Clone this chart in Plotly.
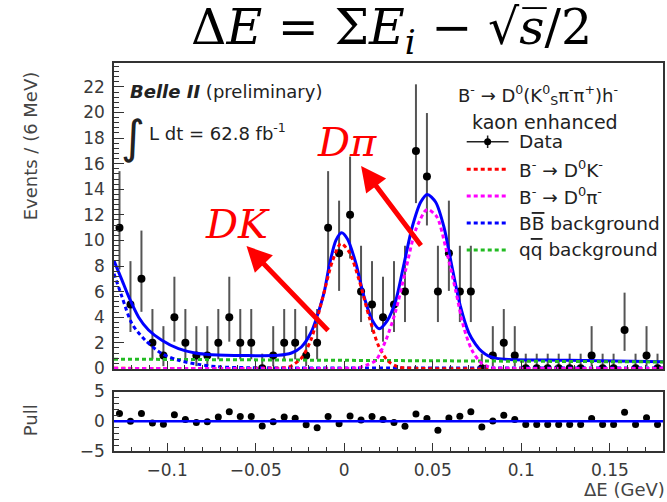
import math
import plotly.graph_objects as go

# ---------------- data ----------------
x_lo, x_hi = -0.13, 0.18
n_bins = 50
counts = [11, 5, 7, 2, 1, 4, 2, 1, 1, 2,
          4, 2, 2, 0, 1, 2, 2, 1, 2, 11,
          9, 12, 6, 5, 4, 5, 6, 17, 15, 6,
          9, 6, 6, 0, 1, 2, 1, 0, 0, 0,
          0, 0, 0, 1, 0, 0, 3, 0, 1, 0]
pulls = [1.3, 0.0, 1.3, -0.3, -0.5, 1.1, 0.3, -0.2, -0.1, 0.7,
         1.6, 0.8, 0.8, -0.8, -0.1, 0.7, 0.5, -0.6, -1.1, 0.8,
         -0.4, 0.9, 0.2, 0.8, 0.3, -0.2, -0.85, 1.2, 0.45, -1.5,
         0.55, 0.85, 1.6, -0.95, 0.05, 1.0, 0.3, -0.55, -0.55, -0.55,
         -0.55, -0.55, -0.55, 0.45, -0.55, -0.55, 1.5, -0.55, 0.6, -0.55]

total_x = [-0.1300, -0.1255, -0.1217, -0.1161, -0.1105, -0.1030, -0.0936, -0.0842,
           -0.0749, -0.0561, -0.0373, -0.0298, -0.0242, -0.0186, -0.0148, -0.0111,
           -0.0085, -0.0047, -0.0015, 0.0019, 0.0066, 0.0112, 0.0159, 0.0197,
           0.0244, 0.0291, 0.0338, 0.0384, 0.0432, 0.0469, 0.0516, 0.0563,
           0.0609, 0.0657, 0.0703, 0.0741, 0.0778, 0.0816, 0.0860, 0.0928,
           0.1266, 0.1800]
total_y = [8.40, 6.90, 5.60, 4.00, 3.00, 2.20, 1.54, 1.20,
           1.07, 1.00, 1.02, 1.20, 1.67, 2.84, 4.30, 6.10,
           8.00, 10.0, 10.6, 10.1, 8.20, 5.60, 3.75, 3.10,
           3.75, 5.30, 8.20, 11.05, 13.0, 13.6, 13.0, 11.05,
           7.90, 4.80, 2.80, 1.90, 1.30, 0.95, 0.78, 0.70,
           0.63, 0.52]

dk_x = [-0.13, -0.05, -0.0360, -0.0310, -0.0242, -0.0186, -0.0124, -0.0066, -0.0019,
        0.0028, 0.0084, 0.0141, 0.0197, 0.0253, 0.0309, 0.040, 0.18]
dk_y = [0.0, 0.0, 0.02, 0.12, 0.8, 2.3, 5.4, 8.4, 9.75,
        9.1, 6.9, 4.0, 1.67, 0.5, 0.1, 0.0, 0.0]

dpi_x = [-0.13, 0.0, 0.0080, 0.0122, 0.0178, 0.0235, 0.0291, 0.0347, 0.0403, 0.0460,
         0.0478, 0.0525, 0.0572, 0.0629, 0.0675, 0.0722, 0.0778, 0.0833, 0.095, 0.18]
dpi_y = [0.0, 0.0, 0.05, 0.23, 0.63, 2.2, 4.5, 7.7, 10.8, 12.35,
         12.4, 11.8, 9.5, 6.1, 3.2, 1.4, 0.37, 0.05, 0.0, 0.0]

bb_x = [-0.1300, -0.1255, -0.1199, -0.1124, -0.1030, -0.0936, -0.0823, -0.0711, -0.0535, 0.0, 0.18]
bb_y = [7.4, 5.6, 3.5, 2.2, 1.15, 0.63, 0.31, 0.12, 0.05, 0.03, 0.02]

qq_x = [-0.13, 0.18]
qq_y = [0.72, 0.50]

# ---------------- helpers ----------------
bw = (x_hi - x_lo) / n_bins
centers = [x_lo + (i + 0.5) * bw for i in range(n_bins)]


def pois_cdf(k, mu):
    term = math.exp(-mu)
    s = term
    for j in range(1, k + 1):
        term *= mu / j
        s += term
    return s


def bisect(f, target, lo, hi, increasing):
    for _ in range(80):
        mid = 0.5 * (lo + hi)
        v = f(mid)
        if (v < target) == increasing:
            lo = mid
        else:
            hi = mid
    return 0.5 * (lo + hi)


alpha = 0.158655
err_up, err_dn = [], []
for n in counts:
    if n == 0:
        up = bisect(lambda m: pois_cdf(0, m), 0.3173, 0.0, 10.0, False)
        lo = 0.0
    else:
        up = bisect(lambda m: pois_cdf(n, m), alpha, 0.0, 100.0, False)
        lo = bisect(lambda m: 1 - pois_cdf(n - 1, m), alpha, 0.0, 100.0, True)
    err_up.append(up - n)
    err_dn.append(n - lo)

# ---------------- geometry ----------------
W, H = 667, 502
ML, MR, MT, MB = 114, 2, 63, 51
PW = W - ML - MR
PH = H - MT - MB


def px(xp):
    return (xp - ML) / PW


def py(yp):
    return (H - MB - yp) / PH


main_bottom = py(369)
pull_top = py(391.5)

SANS = "DejaVu Sans"
SERIF = "DejaVu Serif"
DOT = "4px,3px"

fig = go.Figure()

# data
fig.add_trace(go.Scatter(
    x=centers, y=counts, mode="markers", xaxis="x", yaxis="y",
    marker=dict(color="black", size=8),
    error_y=dict(type="data", array=err_up, arrayminus=err_dn, symmetric=False,
                 color="#555555", thickness=2, width=0),
    showlegend=False))

# curves
fig.add_trace(go.Scatter(x=total_x, y=total_y, mode="lines", xaxis="x", yaxis="y",
                         line=dict(color="#0000ff", width=3, shape="spline", smoothing=0.8),
                         showlegend=False))
fig.add_trace(go.Scatter(x=qq_x, y=qq_y, mode="lines", xaxis="x", yaxis="y",
                         line=dict(color="#22bb22", width=3, dash=DOT), showlegend=False))
fig.add_trace(go.Scatter(x=bb_x, y=bb_y, mode="lines", xaxis="x", yaxis="y",
                         line=dict(color="#0000ff", width=3, dash=DOT, shape="spline", smoothing=0.8),
                         showlegend=False))
fig.add_trace(go.Scatter(x=dk_x, y=dk_y, mode="lines", xaxis="x", yaxis="y",
                         line=dict(color="#ff0000", width=3, dash=DOT, shape="spline", smoothing=0.8),
                         showlegend=False))
fig.add_trace(go.Scatter(x=dpi_x, y=dpi_y, mode="lines", xaxis="x", yaxis="y",
                         line=dict(color="#ff00ff", width=3, dash=DOT, shape="spline", smoothing=0.8),
                         showlegend=False))

# pulls
fig.add_trace(go.Scatter(x=centers, y=pulls, mode="markers", xaxis="x2", yaxis="y2",
                         marker=dict(color="black", size=7), showlegend=False))

tickfont = dict(family=SANS, size=17, color="#3a3a3a")
axline = dict(showline=True, linecolor="#333333", linewidth=1.5, mirror=True,
              showgrid=False, zeroline=False)

fig.update_layout(
    width=W, height=H, autosize=False,
    margin=dict(l=ML, r=MR, t=MT, b=MB, pad=0),
    paper_bgcolor="white", plot_bgcolor="white",
    xaxis=dict(domain=[0, 1], anchor="y", range=[x_lo, x_hi], dtick=0.05, tick0=0,
               ticks="inside", ticklen=8, tickcolor="#333333", showticklabels=False,
               minor=dict(ticks="inside", dtick=0.01, ticklen=4, tickcolor="#333333"),
               **axline),
    yaxis=dict(domain=[main_bottom, 1], anchor="x", range=[-0.05, 23.87], dtick=2, tick0=0,
               ticks="inside", ticklen=10, tickcolor="#333333", tickfont=tickfont,
               ticklabelstandoff=4,
               minor=dict(ticks="inside", dtick=0.4, ticklen=5, tickcolor="#333333"),
               **axline),
    xaxis2=dict(domain=[0, 1], anchor="y2", range=[x_lo, x_hi], dtick=0.05, tick0=0,
                ticks="inside", ticklen=8, tickcolor="#333333", tickfont=tickfont,
                ticklabelstandoff=3,
                minor=dict(ticks="inside", dtick=0.01, ticklen=4, tickcolor="#333333"),
                **axline),
    yaxis2=dict(domain=[0, pull_top], anchor="x2", range=[-5, 5], tickvals=[-5, 0, 5],
                ticks="inside", ticklen=10, tickcolor="#333333", tickfont=tickfont,
                ticklabelstandoff=4,
                minor=dict(ticks="inside", dtick=1, ticklen=5, tickcolor="#333333"),
                **axline),
    showlegend=False,
)

shapes = [
    dict(type="line", xref="x2 domain", yref="y2", x0=0, x1=1, y0=0, y1=0,
         line=dict(color="#0000ff", width=2.5)),
    # legend samples
    dict(type="line", xref="paper", yref="paper", x0=px(468), x1=px(510), y0=py(141.7), y1=py(141.7),
         line=dict(color="#222222", width=1.5)),
    dict(type="line", xref="paper", yref="paper", x0=px(489), x1=px(489), y0=py(135.5), y1=py(148),
         line=dict(color="#222222", width=1.5)),
    dict(type="circle", xref="paper", yref="paper", x0=px(485.5), x1=px(492.5), y0=py(138.2), y1=py(145.2),
         fillcolor="black", line=dict(color="black", width=0)),
]
for yy, col in [(169.3, "#ff0000"), (196, "#ff00ff"), (223, "#0000ff"), (250, "#22bb22")]:
    shapes.append(dict(type="line", xref="paper", yref="paper", x0=px(468), x1=px(510),
                       y0=py(yy), y1=py(yy), line=dict(color=col, width=3, dash=DOT)))
fig.update_layout(shapes=shapes)

OL = "<span style='text-decoration:overline'>"
ann = []


def txt(text, xp, yp, size, family=SANS, color="#222222", xanchor="center", angle=0):
    ann.append(dict(text=text, x=px(xp), y=py(yp), xref="paper", yref="paper", showarrow=False,
                    xanchor=xanchor, yanchor="middle", textangle=angle,
                    font=dict(family=family, size=size, color=color)))


# title
txt("Δ<i>E</i> = Σ<i>E<sub>i</sub></i> − √<i>s\u0305</i>/2", 393, 30, 49, family=SERIF, color="black")
# axis titles
txt("Events / (6 MeV)", 30, 146, 18, color="#444444", angle=-90)
txt("Pull", 30, 420, 18, color="#444444", angle=-90)
txt("ΔE (GeV)", 584, 489, 18, color="#444444", xanchor="left")
# Belle II labels
txt("<b><i>Belle II</i></b> (preliminary)", 128, 92, 18, xanchor="left")
txt("∫", 133, 137, 46)
txt("L dt = 62.8 fb<sup>-1</sup>", 147, 132, 18, xanchor="left")
# legend
txt("B<sup>-</sup> → D<sup>0</sup>(K<sup>0</sup><sub>S</sub>π<sup>-</sup>π<sup>+</sup>)h<sup>-</sup>", 540, 95, 18)
txt("kaon enhanced", 546.7, 121.7, 19)
txt("Data", 518, 141.7, 18.5, xanchor="left")
txt("B<sup>-</sup> → D<sup>0</sup>K<sup>-</sup>", 518, 169.3, 18.5, xanchor="left")
txt("B<sup>-</sup> → D<sup>0</sup>π<sup>-</sup>", 518, 196, 18.5, xanchor="left")
txt("B" + OL + "B</span> background", 518, 223, 18.5, xanchor="left")
txt("q" + OL + "q</span> background", 518, 250, 18.5, xanchor="left")
# red labels
txt("<i>DK</i>", 238, 224, 40, family=SERIF, color="#ff0000")
txt("<i>Dπ</i>", 348, 142, 40, family=SERIF, color="#ff0000")

# arrows
for (hx, hy, tx, ty) in [(247, 246, 330, 332), (362, 166, 423, 247)]:
    ann.append(dict(text="", x=px(hx), y=py(hy), xref="paper", yref="paper",
                    showarrow=True, ax=tx - hx, ay=ty - hy, axref="pixel", ayref="pixel",
                    arrowhead=2, arrowsize=1, arrowwidth=5, arrowcolor="#ff0000", standoff=0))

fig.update_layout(annotations=ann)
fig.write_html("out.html", config={"displayModeBar": False},
               post_script="document.body.style.margin='0px';")
